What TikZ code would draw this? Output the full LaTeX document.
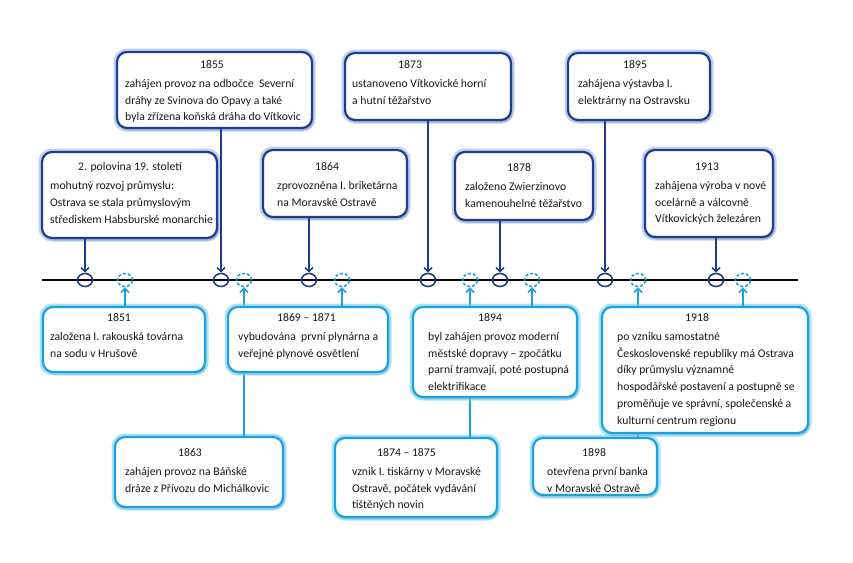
\documentclass[tikz,border=0pt]{standalone}
\usepackage{fontspec}
\setmainfont{Carlito}
\usetikzlibrary{arrows.meta,shapes.geometric,shadows}
\definecolor{navy}{RGB}{32,60,140}
\definecolor{navyglow}{RGB}{140,172,228}
\definecolor{sky}{RGB}{30,160,220}
\definecolor{skyglow}{RGB}{120,212,245}
\tikzset{
  boxbase/.style={rounded corners=10pt, fill=white, inner sep=0pt,
    drop shadow={shadow xshift=1.5pt, shadow yshift=-2.5pt, opacity=.35, fill=black!70}},
  darkbox/.style={boxbase, draw=navy, line width=2.2pt,
    preaction={draw=navyglow, line width=7pt, opacity=.55}},
  lightbox/.style={boxbase, draw=sky, line width=2.2pt,
    preaction={draw=skyglow, line width=7pt, opacity=.65}},
  txt/.style={anchor=north west, inner sep=0pt, align=left, text=black!90,
    font=\fontsize{11.7}{16.8}\selectfont},
  darkmark/.style={ellipse, draw=navy, line width=1.6pt, minimum width=15pt, minimum height=13pt, inner sep=0pt},
  lightmark/.style={ellipse, draw=sky, line width=1.6pt, dash pattern=on 3pt off 2pt, minimum width=15pt, minimum height=13pt, inner sep=0pt},
  darkarrow/.style={draw=navy, line width=1.7pt, -{Straight Barb[length=4pt,width=8pt]}},
  lightarrow/.style={draw=sky, line width=1.7pt, -{Straight Barb[length=4pt,width=8pt]}},
  axis/.style={draw=black, line width=1.6pt}
}
\newcommand\yr[2]{\rule{0pt}{8pt}\hspace*{#1}#2\\[1.8pt]}
\begin{document}
\begin{tikzpicture}[x=1pt,y=-1pt]
\useasboundingbox (0,0) rectangle (853,562);
% timeline
\coordinate (axL) at (42,280);
\coordinate (axR) at (798,280);
\draw[axis] (axL) -- (axR);
% markers
\node[darkmark] (cA) at (85,280) {};
\node[darkmark] (cB) at (221,280) {};
\node[darkmark] (cC) at (309,280) {};
\node[darkmark] (cD) at (428,280) {};
\node[darkmark] (cE) at (500,280) {};
\node[darkmark] (cF) at (605,280) {};
\node[darkmark] (cG) at (716,280) {};
\node[lightmark] (cH) at (125,280) {};
\node[lightmark] (cJ) at (244,280) {};
\node[lightmark] (cI) at (342,280) {};
\node[lightmark] (cL) at (470,280) {};
\node[lightmark] (cK) at (532,280) {};
\node[lightmark] (cN) at (638,280) {};
\node[lightmark] (cM) at (743,280) {};
% boxes
\node[darkbox, minimum width=175pt, minimum height=86pt] (bA) at (129.5,195) {};
\node[darkbox, minimum width=195pt, minimum height=76pt] (bB) at (214.5,90) {};
\node[darkbox, minimum width=144pt, minimum height=67pt] (bC) at (335,183.5) {};
\node[darkbox, minimum width=166pt, minimum height=67pt] (bD) at (428,86.5) {};
\node[darkbox, minimum width=138pt, minimum height=68pt] (bE) at (524,186) {};
\node[darkbox, minimum width=142pt, minimum height=67pt] (bF) at (639,86.5) {};
\node[darkbox, minimum width=128pt, minimum height=87pt] (bG) at (709,193.5) {};
\node[lightbox, minimum width=168pt, minimum height=70pt] (bJ) at (199,472) {};
\node[lightbox, minimum width=162pt, minimum height=79pt] (bL) at (416,477.5) {};
\node[lightbox, minimum width=124pt, minimum height=57pt] (bN) at (595,466.5) {};
% connectors passing behind the upper lower boxes
\draw[lightarrow] (bJ.north -| cJ) -- (cJ.south);
\draw[lightarrow] (bL.north -| cL) -- (cL.south);
\draw[lightarrow] (bN.north -| cN) -- (cN.south);
\node[lightbox, minimum width=162pt, minimum height=65pt] (bH) at (124,339.5) {};
\node[lightbox, minimum width=160pt, minimum height=65pt] (bI) at (308,339.5) {};
\node[lightbox, minimum width=164pt, minimum height=90pt] (bK) at (495,352) {};
\node[lightbox, minimum width=206pt, minimum height=126pt] (bM) at (705,370) {};
% connectors
\draw[darkarrow] (bA.south -| cA) -- (cA.north);
\draw[darkarrow] (bB.south -| cB) -- (cB.north);
\draw[darkarrow] (bC.south -| cC) -- (cC.north);
\draw[darkarrow] (bD.south -| cD) -- (cD.north);
\draw[darkarrow] (bE.south -| cE) -- (cE.north);
\draw[darkarrow] (bF.south -| cF) -- (cF.north);
\draw[darkarrow] (bG.south -| cG) -- (cG.north);
\draw[lightarrow] (bH.north -| cH) -- (cH.south);
\draw[lightarrow] (bI.north -| cI) -- (cI.south);
\draw[lightarrow] (bK.north -| cK) -- (cK.south);
\draw[lightarrow] (bM.north -| cM) -- (cM.south);
% texts
\node[txt] (tA) at (50,162.5) {\yr{28pt}{2. polovina 19. století}mohutný rozvoj průmyslu:\\Ostrava se stala průmyslovým\\střediskem Habsburské monarchie};
\node[txt] (tB) at (125,60.5) {\yr{75pt}{1855}zahájen provoz na odbočce\ \ Severní\\dráhy ze Svinova do Opavy a také\\byla zřízena koňská dráha do Vítkovic};
\node[txt] (tC) at (277,162.5) {\yr{38pt}{1864}zprovozněna I. briketárna\\na Moravské Ostravě};
\node[txt] (tD) at (352,60.5) {\yr{46pt}{1873}ustanoveno Vítkovické horní\\a hutní těžařstvo};
\node[txt] (tE) at (465,163.5) {\yr{42pt}{1878}založeno Zwierzinovo\\kamenouhelné těžařstvo};
\node[txt] (tF) at (578,60.5) {\yr{45pt}{1895}zahájena výstavba I.\\elektrárny na Ostravsku};
\node[txt] (tG) at (655,162.5) {\yr{40pt}{1913}zahájena výroba v nové\\ocelárně a válcovně\\Vítkovických železáren};
\node[txt] (tH) at (50,313.5) {\yr{57pt}{1851}založena I. rakouská továrna\\na sodu v Hrušově};
\node[txt] (tI) at (238,313.5) {\yr{39pt}{1869 – 1871}vybudována\ \ první plynárna a\\veřejné plynové osvětlení};
\node[txt] (tJ) at (125,448.5) {\yr{53pt}{1863}zahájen provoz na Báňské\\dráze z Přívozu do Michálkovic};
\node[txt] (tK) at (428,313.5) {\yr{50pt}{1894}byl zahájen provoz moderní\\městské dopravy – zpočátku\\parní tramvají, poté postupná\\elektrifikace};
\node[txt] (tL) at (352,448.5) {\yr{25pt}{1874 – 1875}vznik I. tiskárny v Moravské\\Ostravě, počátek vydávání\\tištěných novin};
\node[txt] (tM) at (617,313.5) {\yr{68pt}{1918}po vzniku samostatné\\Československé republiky má Ostrava\\díky průmyslu významné\\hospodářské postavení a postupně se\\proměňuje ve správní, společenské a\\kulturní centrum regionu};
\node[txt] (tN) at (547,448.5) {\yr{35pt}{1898}otevřena první banka\\v Moravské Ostravě};
\end{tikzpicture}
\end{document}
